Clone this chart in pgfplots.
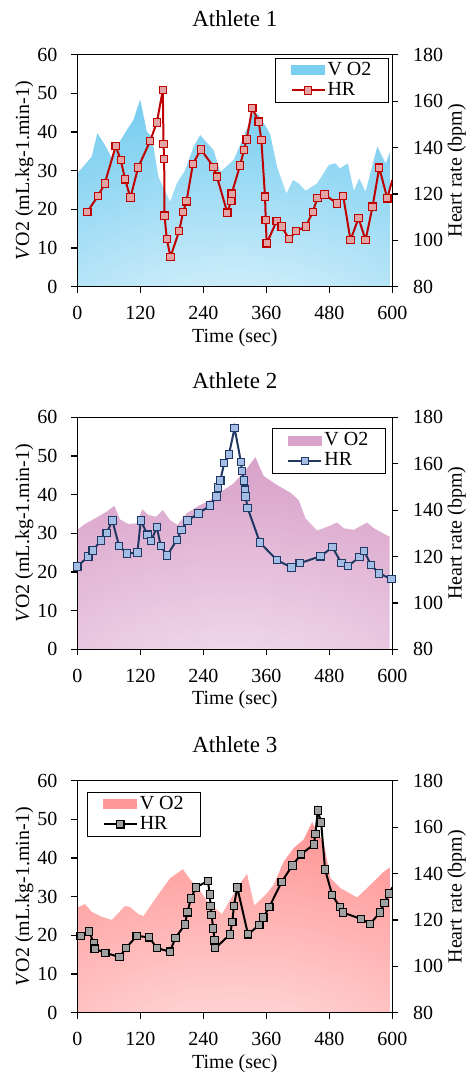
\documentclass[border=0pt]{standalone}
\usepackage{fontspec}
\setmainfont{Liberation Serif}
\usepackage{pgfplots}
\pgfplotsset{compat=1.18}

\definecolor{skyFill}{RGB}{122,206,240}
\definecolor{skyLight}{RGB}{224,244,252}
\definecolor{redLine}{RGB}{192,0,0}
\definecolor{redMark}{RGB}{226,164,164}
\definecolor{mauveFill}{RGB}{217,162,202}
\definecolor{mauveLight}{RGB}{244,226,239}
\definecolor{navyLine}{RGB}{31,56,100}
\definecolor{navyMark}{RGB}{164,189,228}
\definecolor{salmonFill}{RGB}{255,152,152}
\definecolor{salmonLight}{RGB}{255,224,224}
\definecolor{grayMark}{RGB}{160,160,160}

\pgfdeclareradialshading{glowA}{\pgfpoint{0bp}{-50bp}}{color(0bp)=(skyLight); color(10bp)=(skyLight); color(55bp)=(skyFill); color(150bp)=(skyFill)}
\pgfdeclareradialshading{glowB}{\pgfpoint{0bp}{-50bp}}{color(0bp)=(mauveLight); color(10bp)=(mauveLight); color(55bp)=(mauveFill); color(150bp)=(mauveFill)}
\pgfdeclareradialshading{glowC}{\pgfpoint{0bp}{-50bp}}{color(0bp)=(salmonLight); color(10bp)=(salmonLight); color(55bp)=(salmonFill); color(150bp)=(salmonFill)}

\pgfplotsset{
  panel/.style={scale only axis, width=315pt, height=232pt,
    xmin=0, xmax=600, tick align=outside, major tick length=6pt,
    axis line style={line width=1.5pt},
    every tick/.style={black, line width=1.2pt},
    /pgf/number format/assume math mode=true},
  vleft/.style={panel, ymin=0, ymax=60, ytick={0,10,...,60},
    xtick={0,120,...,600}, xtick pos=left, ytick pos=left, axis on top,
    yticklabel style={xshift=-7pt}, xticklabel style={yshift=-7pt},
    ylabel={\textit{V}O2 (mL.kg-1.min-1)}, xlabel={Time (sec)},
    title style={font=\fontsize{23}{27}\selectfont, at={(0.5,1)}, anchor=base, yshift=22.5pt},
    every axis y label/.style={at={(axis description cs:-0.168,0.5)}, rotate=90, anchor=center},
    every axis x label/.style={at={(axis description cs:0.5,0)}, anchor=base, yshift=-55.5pt}},
  hright/.style={panel, axis y line*=right, axis x line=none,
    ymin=80, ymax=180, ytick={80,100,...,180},
    yticklabel style={xshift=8pt},
    ylabel={Heart rate (bpm)},
    every axis y label/.style={at={(axis description cs:1.205,0.5)}, rotate=90, anchor=center},
    legend cell align=left,
    legend style={draw=black, line width=0.8pt, inner xsep=15pt, inner ysep=3pt, row sep=2pt,
      nodes={inner xsep=2pt, inner ysep=1pt}},
    legend image code/.code={\draw[mark repeat=2,mark phase=2,##1] plot coordinates {(0pt,0pt) (16.5pt,0pt) (33pt,0pt)};}},
  hrline/.style 2 args={color=#1, line width=2pt, mark=square*, mark size=3.7pt,
    mark options={fill=#2, draw=#1, line width=1.1pt, solid}},
}

\begin{document}
\fontsize{20}{24}\selectfont
\begin{tikzpicture}
\path[use as bounding box] (0pt,0pt) rectangle (473pt,-1073pt);

% ---------------- Athlete 1
\begin{axis}[vleft, at={(77.3pt,-54.7pt)}, anchor=north west, title={Athlete 1}]
\addplot[draw=none, shading=glowA] coordinates {
(0,29.3)(27.4,33.6)(38.2,39.7)(52.9,36.6)(65.7,33.2)(75.1,36.2)(94.2,40.5)(106.9,43.1)(119.8,48.4)(132.4,40.1)(141.9,38.8)(154.6,28.4)(167.4,24.6)(176.9,22)(189.6,26.7)(205.5,30.2)(221.4,36.2)(234.1,39.2)(259.6,35.3)(272.3,29.7)(285,31.2)(297.8,32.8)(316.9,38.8)(335.9,45.3)(345.5,44.4)(361.4,40.9)(367.8,39.2)(380.5,31)(398.3,24.1)(411,27.6)(421.9,26.7)(434.6,24.8)(456.8,26.7)(479.1,31.5)(491.8,31.9)(500.1,30.6)(515.4,31.9)(526.8,24.8)(537,28)(549.1,24.6)(571.3,36.2)(587.3,31.9)(597,35.3)
} \closedcycle;
\end{axis}
\begin{axis}[hright, at={(77.3pt,-54.7pt)}, anchor=north west,
  legend style={at={(0.989,0.987)}, anchor=north east}]
\addlegendimage{legend image code/.code={\fill[skyFill] (0pt,-4.5pt) rectangle (33pt,4.5pt);}}
\addlegendentry{V O2}
\addplot[hrline={redLine}{redMark}] coordinates {
(19.1,112.3)(39.5,119.1)(52.3,124.5)(73.2,140.6)(82.8,134.6)(91,126.3)(101.2,118.4)(115.9,131.4)(138.7,142.8)(151.5,150.8)(162.9,164.8)(164.2,141.5)(165.5,135)(166.1,110.6)(170.5,100.5)(177.5,92.9)(194,104)(201.7,112.3)(208,116.8)(220.2,132.9)(235.4,139.2)(259.6,131.6)(266,127.4)(285.7,111.9)(293.3,117.1)(294,120.1)(309.9,132.2)(317.5,138.9)(322.6,143.5)(333.4,157)(345.5,151.1)(350.6,143.2)(357.6,118.8)(358.9,108.7)(360.8,98.7)(379.8,108.3)(389.4,105.9)(403.4,100.5)(416.7,104)(435.2,105.9)(448.5,112.3)(457.4,118.2)(470.8,119.8)(494.3,115.9)(506.4,119.2)(520.4,100.1)(535.7,109.6)(549,100.1)(562.4,114.5)(575.1,131.3)(590.4,118.1)
};
\addlegendentry{HR}
\addplot[redLine, line width=2pt, forget plot] coordinates {(590.4,118.1)(600,126)};
\end{axis}

% ---------------- Athlete 2
\begin{axis}[vleft, at={(77.3pt,-417.3pt)}, anchor=north west, title={Athlete 2}]
\addplot[draw=none, shading=glowB] coordinates {
(0,30.9)(14.6,32.4)(30.5,33.6)(56,35.6)(70.6,37.1)(81.4,33.6)(97.3,32.4)(113.2,32.6)(124,36.2)(135.5,34.7)(150.1,34.3)(162.8,36)(176.8,33.4)(190.8,32.2)(208.7,35.2)(230.9,37.1)(253.2,38.6)(278.6,41.2)(297.7,42.9)(323.2,46.8)(339.1,49.7)(354.9,44.8)(380.4,42.5)(405.9,40.5)(421.8,38.6)(434.5,33.9)(456.7,30.7)(482.2,32)(494.9,32.8)(507.6,31.3)(526.7,30.9)(552.2,32.8)(564.9,31.3)(595,29.1)
} \closedcycle;
\end{axis}
\begin{axis}[hright, at={(77.3pt,-417.3pt)}, anchor=north west,
  legend style={at={(0.979,0.953)}, anchor=north east}]
\addlegendimage{legend image code/.code={\fill[mauveFill] (0pt,-4.5pt) rectangle (33pt,4.5pt);}}
\addlegendentry{V O2}
\addplot[hrline={navyLine}{navyMark}] coordinates {
(0,115.7)(21,120)(29.3,122.6)(45.2,126.9)(56,130.1)(66.8,135.5)(79.5,124.6)(94.8,121.3)(114.5,121.7)(120.9,135.5)(133.6,129.4)(140.6,126.6)(151.4,132.7)(159,124.5)(171.1,120.4)(189.6,127.2)(198.5,131.4)(209.9,135.5)(230.9,138.6)(253.2,142)(265.3,145.9)(268.4,149.8)(272.3,152.7)(279.9,160.3)(288.8,164)(299.6,175.4)(311.7,160.7)(313.6,156.8)(317.4,152.8)(319.3,148.8)(320.6,145.8)(324.4,140.9)(347.9,126)(380.4,118.4)(407.8,115.3)(423.7,117.1)(463.1,120.1)(486,124)(503.2,117.1)(516,116)(537.5,119.7)(546.4,122.4)(559.2,116.4)(575.1,112.7)(598.6,110.2)
};
\addlegendentry{HR}
\end{axis}

% ---------------- Athlete 3
\begin{axis}[vleft, at={(77.3pt,-780.7pt)}, anchor=north west, title={Athlete 3}]
\addplot[draw=none, shading=glowC] coordinates {
(0,27.2)(3.8,27.4)(14.6,28.1)(27.4,26.1)(46.4,24.8)(65.5,24)(91,27.6)(100.5,27.3)(116.4,25.5)(125.9,25)(151.4,30)(176.8,34.8)(201,37.1)(218.2,33.9)(226.5,33.1)(245.5,29.2)(259.5,27.4)(275.4,25.5)(291.3,29.2)(304,32.2)(323.2,35.9)(337.2,27.7)(361.3,30.9)(374,33.1)(393.1,39.1)(412.2,42.6)(431.3,44.8)(447.2,49.3)(456.7,46.9)(469.5,43.9)(482.2,34.8)(501.3,32.2)(533.1,29.8)(558.5,33.1)(584,36.5)(597,37.7)
} \closedcycle;
\end{axis}
\begin{axis}[hright, at={(77.3pt,-780.7pt)}, anchor=north west,
  legend style={at={(0.032,0.953)}, anchor=north west}]
\addlegendimage{legend image code/.code={\fill[salmonFill] (0pt,-4.5pt) rectangle (33pt,4.5pt);}}
\addlegendentry{V O2}
\addplot[hrline={black}{grayMark}] coordinates {
(6.4,113)(22.3,115)(31.8,109.8)(33.1,107.6)(53.4,105.8)(80.2,104)(92.9,107.9)(113.2,113.1)(136.8,112.5)(151.4,107.9)(176.2,106.3)(187,112.2)(204.8,118)(209.9,123.3)(216.3,129.2)(225.8,134)(248.7,136.8)(252.5,130.9)(253.8,126)(255.7,122.2)(258.9,116.3)(261.5,111.2)(262.7,107.8)(290.7,113.7)(295.2,119)(298.3,125.9)(304.7,134)(325.1,113.8)(346.7,117.8)(354.3,121)(365.8,125.6)(389.3,136.4)(409.7,143.5)(426.2,148.3)(450.4,152.5)(453.6,157.1)(458,167.2)(464.4,162)(472,141.7)(485.4,130.8)(500,125.6)(505.7,123.2)(540.7,120.4)(557.9,118.3)(576.3,123.2)(585.2,127.3)(593.5,131.4)
};
\addlegendentry{HR}
\addplot[black, line width=2pt, forget plot] coordinates {(593.5,131.4)(600,134)};
\end{axis}
\end{tikzpicture}
\end{document}
